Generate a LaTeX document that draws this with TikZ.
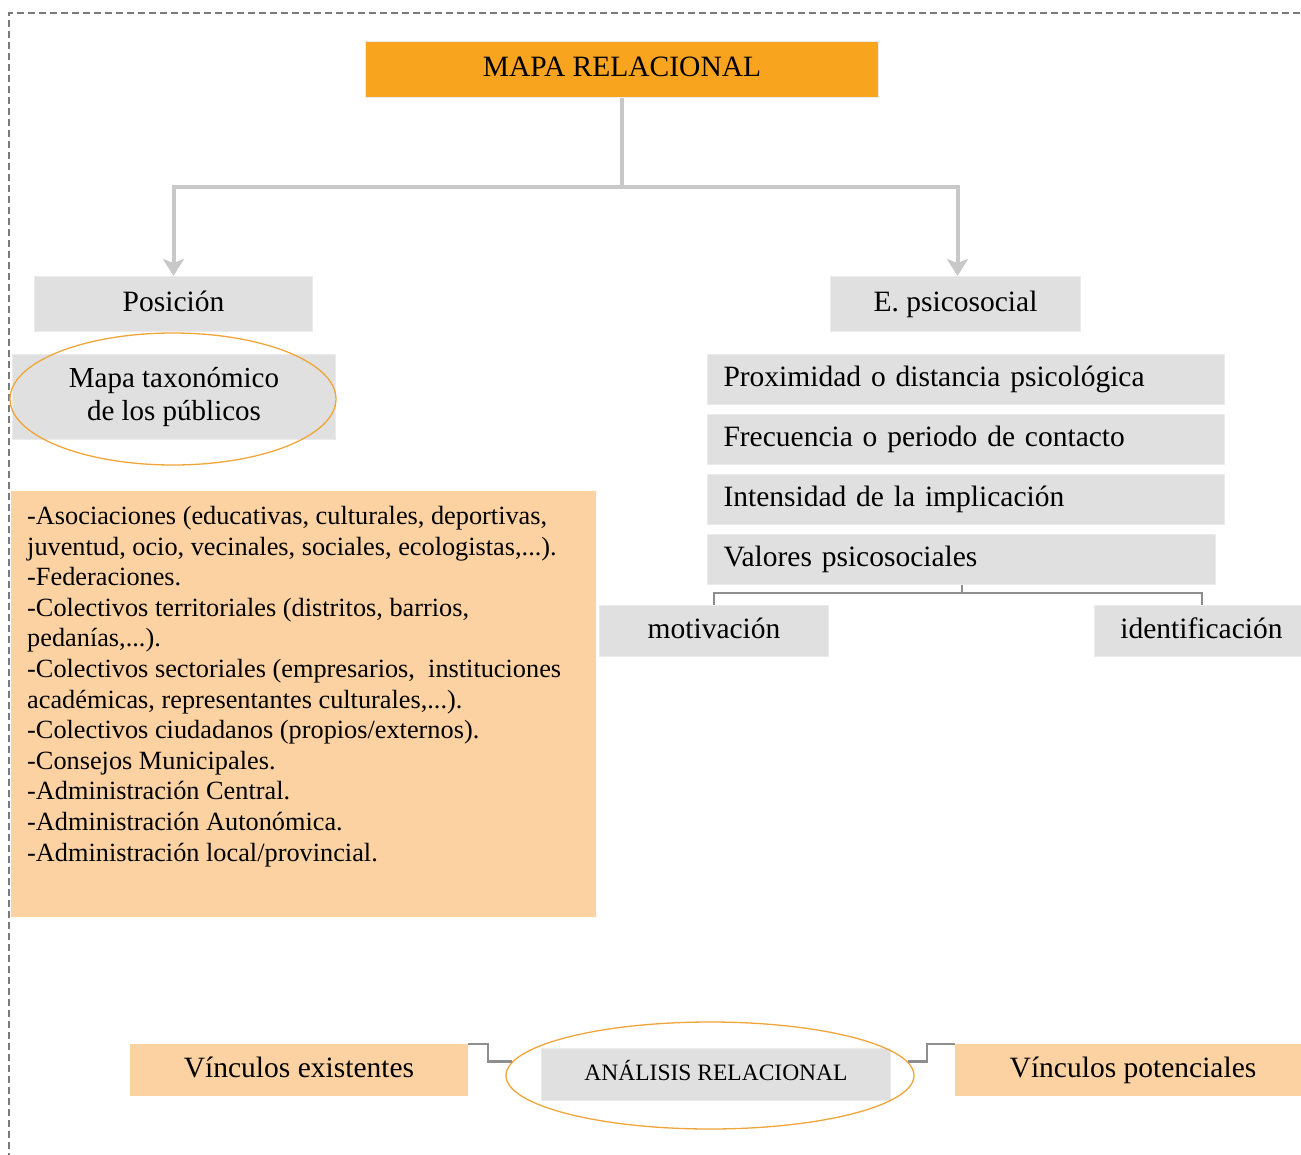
\documentclass[tikz,border=0pt]{standalone}
\usepackage{fontspec}
\setmainfont{LiberationSerif-Regular.ttf}
\usetikzlibrary{arrows.meta,shapes.geometric,calc}
\definecolor{cOrange}{HTML}{F8A41F}
\definecolor{cPeach}{HTML}{FCD2A3}
\definecolor{cGray}{HTML}{E0E0E0}
\definecolor{cEdge}{HTML}{EBEBEB}
\definecolor{cLine}{HTML}{C8C8C8}
\definecolor{cDark}{HTML}{8E8E8E}
\definecolor{cEll}{HTML}{F0A53A}
\definecolor{cDash}{HTML}{7A7A7A}
\begin{document}
\begin{tikzpicture}[x=1pt,y=-1pt,
  box/.style={rectangle,anchor=north west,inner sep=0pt,fill=cGray,draw=cEdge,line width=1pt,font=\fontsize{29.5}{32}\selectfont,text height=20pt,text depth=6pt},
  pbox/.style={box,fill=cPeach,draw=cPeach},
  lbox/.style={box,inner xsep=16pt,align=left,minimum height=50pt},
  ellnode/.style={ellipse,draw=cEll,line width=1.3pt,inner sep=0pt},
  bigarrow/.style={draw=cLine,line width=4pt,-{Stealth[length=17pt,width=21pt,inset=4pt]}},
  thinline/.style={draw=cDark,line width=2pt},
]
\useasboundingbox (0,0) rectangle (1301,1154);
% dashed frame
\draw[cDash,line width=1.5pt,dash pattern=on 7pt off 4pt] (9,1160) -- (9,13) -- (1310,13);

% top
\node[box,fill=cOrange,draw=cEdge,minimum width=513pt,minimum height=56pt] (map) at (365,41) {MAPA RELACIONAL};

% left branch
\node[box,minimum width=278pt,minimum height=55pt] (pos) at (34,276) {Posición};
\node[box,minimum width=323pt,minimum height=85pt,align=center,text height=,text depth=,font=\fontsize{29}{33}\selectfont] (tax) at (12,354) {Mapa taxonómico\\de los públicos};
\node[ellnode,minimum width=326pt,minimum height=132pt] (taxell) at (173,399) {};

\node[pbox,minimum width=584pt,minimum height=425pt] (lst) at (11,491) {};
\node[anchor=north west,inner sep=0pt,align=left,font=\fontsize{26.3}{30.6}\selectfont] (lsttxt) at ($(lst.north west)+(16,15)$) {%
-Asociaciones (educativas, culturales, deportivas,\\
juventud, ocio, vecinales, sociales, ecologistas,...).\\
-Federaciones.\\
-Colectivos territoriales (distritos, barrios,\\
pedanías,...).\\
-Colectivos sectoriales (empresarios, \ instituciones\\
académicas, representantes culturales,...).\\
-Colectivos ciudadanos (propios/externos).\\
-Consejos Municipales.\\
-Administración Central.\\
-Administración Autonómica.\\
-Administración local/provincial.};

% right branch
\node[box,minimum width=250pt,minimum height=55pt] (eps) at (830,276) {E. psicosocial};
\node[lbox,text width=485pt] (prox) at (707,354) {Proximidad o distancia psicológica};
\node[lbox,text width=485pt] (frec) at (707,414) {Frecuencia o periodo de contacto};
\node[lbox,text width=485pt] (inte) at (707,474) {Intensidad de la implicación};
\node[lbox,text width=476pt] (val) at (707,534) {Valores psicosociales};
\node[box,minimum width=229pt,minimum height=51pt] (mot) at (599,605) {motivación};
\node[box,minimum width=214pt,minimum height=51pt] (ide) at (1094,605) {identificación};

% bottom
\node[pbox,minimum width=337pt,minimum height=51pt] (vex) at (130,1044) {Vínculos existentes};
\node[box,minimum width=349pt,minimum height=52pt,font=\fontsize{23.5}{25}\selectfont,text height=17pt,text depth=5pt] (ana) at (541,1048) {ANÁLISIS RELACIONAL};
\node[ellnode,minimum width=408pt,minimum height=107pt] (anaell) at (710,1075.5) {};
\node[pbox,minimum width=355pt,minimum height=51pt] (vpo) at (955,1044) {Vínculos potenciales};

% connectors
\draw[draw=cLine,line width=4pt] (map.south) -- ++(0,89) coordinate (hub);
\draw[bigarrow] (hub) -| (pos.north);
\draw[bigarrow] (hub) -| ($(eps.north)+(2,0)$);
\draw[thinline] (val.south) -- ++(0,8) coordinate (vhub);
\draw[thinline] (vhub) -| (mot.north);
\draw[thinline] (vhub) -| (ide.north);
\draw[thinline,line width=2.5pt] (vex.north east) -- ++(20,0) |- (anaell.176);
\draw[thinline,line width=2.5pt] (anaell.4) -- ++(19,0) |- (vpo.north west);
\end{tikzpicture}
\end{document}
